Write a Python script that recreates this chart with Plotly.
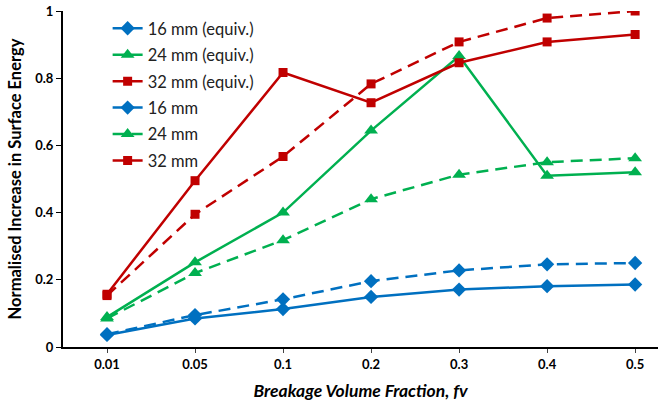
import plotly.graph_objects as go

categories = ["0.01", "0.05", "0.1", "0.2", "0.3", "0.4", "0.5"]
equiv_16 = [0.036, 0.085, 0.113, 0.149, 0.171, 0.181, 0.186]
equiv_24 = [0.089, 0.252, 0.400, 0.644, 0.866, 0.510, 0.520]
equiv_32 = [0.157, 0.495, 0.817, 0.727, 0.846, 0.908, 0.930]
plain_16 = [0.038, 0.095, 0.142, 0.196, 0.228, 0.246, 0.250]
plain_24 = [0.085, 0.220, 0.318, 0.440, 0.513, 0.550, 0.562]
plain_32 = [0.153, 0.395, 0.567, 0.783, 0.908, 0.979, 1.000]

y_ticks = [0, 0.2, 0.4, 0.6, 0.8, 1]
y_tick_labels = ["0", "0.2", "0.4", "0.6", "0.8", "1"]

BLUE = "#0070C0"
GREEN = "#00B050"
RED = "#C00000"

series = [
    ("16 mm (equiv.)", equiv_16, BLUE, "diamond", 11, "solid"),
    ("24 mm (equiv.)", equiv_24, GREEN, "triangle-up", 12, "solid"),
    ("32 mm (equiv.)", equiv_32, RED, "square", 9, "solid"),
    ("16 mm", plain_16, BLUE, "diamond", 11, "12px,7px"),
    ("24 mm", plain_24, GREEN, "triangle-up", 12, "12px,7px"),
    ("32 mm", plain_32, RED, "square", 9, "12px,7px"),
]

fig = go.Figure()
for i, (name, vals, color, sym, size, dash) in enumerate(series):
    fig.add_trace(go.Scatter(
        x=categories, y=vals, name=name, mode="lines+markers",
        legendgroup=f"g{i}",
        line=dict(color=color, width=2.5, dash=dash),
        marker=dict(symbol=sym, size=size, color=color),
    ))

FONT = "Lato"
fig.update_layout(
    width=658, height=406,
    margin=dict(l=63, r=0, t=11, b=59),
    plot_bgcolor="white", paper_bgcolor="white",
    font=dict(family=FONT, size=13, color="black"),
    showlegend=True,
    legend=dict(
        x=0.075, y=1.0, xanchor="left", yanchor="top",
        bgcolor="rgba(0,0,0,0)", font=dict(size=16.5, color="#222"),
        tracegroupgap=2, itemwidth=30,
    ),
    xaxis=dict(
        type="category", range=[-0.5, 6.26], automargin=False,
        showline=True, linecolor="black", linewidth=2,
        ticks="outside", ticklen=4, tickcolor="#444",
        showgrid=False, zeroline=False,
        tickfont=dict(size=13, family=FONT, weight="bold"),
        title=dict(text="<b><i>Breakage Volume Fraction, fv</i></b>",
                   font=dict(size=17.5, family=FONT), standoff=14),
    ),
    yaxis=dict(
        range=[0, 1], tickvals=y_ticks, ticktext=y_tick_labels, automargin=False,
        ticklabeloverflow="allow",
        showline=True, linecolor="black", linewidth=2,
        ticks="outside", ticklen=5, tickcolor="black",
        showgrid=False, zeroline=False,
        tickfont=dict(size=13, family=FONT, weight="bold"),
        title=dict(text="<b>Normalised Increase in Surface Energy</b>",
                   font=dict(size=16.5, family=FONT), standoff=9),
    ),
)

# remove the default 8px page margin so the figure fills the window exactly
fig.write_html("out.html", config={"displayModeBar": False},
               post_script="document.body.style.margin='0';")
